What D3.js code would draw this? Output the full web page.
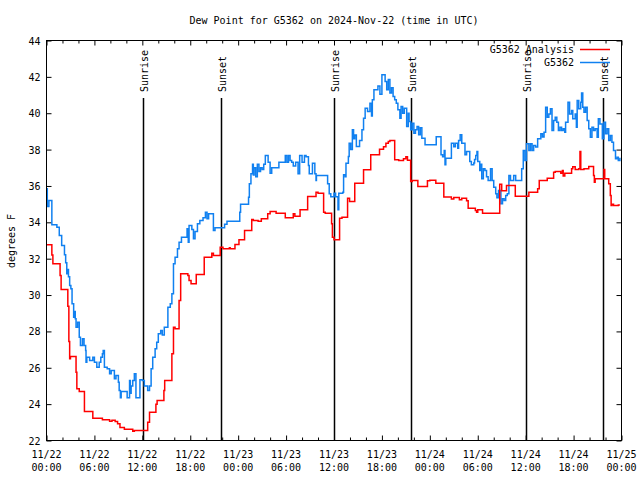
<!DOCTYPE html>
<html><head><meta charset="utf-8">
<script src="https://cdn.jsdelivr.net/npm/d3@7"></script>
<style>
body{margin:0;background:#fff;}
text{font-family:"DejaVu Sans Mono",monospace;font-size:10px;fill:#000;}
</style></head>
<body><svg id="c" width="640" height="480"></svg>
<script>
const titleText = "Dew Point for G5362 on 2024-Nov-22 (time in UTC)";
const yLabel = "degrees F";
const seriesNames = ["G5362 Analysis", "G5362"];
const seriesColors = ["#ff0000", "#1080f0"];
const yTicks = [22,24,26,28,30,32,34,36,38,40,42,44];
const xTickHours = [0,6,12,18,24,30,36,42,48,54,60,66,72];
const xTickLabels = [["11/22","00:00"],["11/22","06:00"],["11/22","12:00"],["11/22","18:00"],["11/23","00:00"],["11/23","06:00"],["11/23","12:00"],["11/23","18:00"],["11/24","00:00"],["11/24","06:00"],["11/24","12:00"],["11/24","18:00"],["11/25","00:00"]];
const sunEvents = [["Sunrise",12.04],["Sunset",21.8],["Sunrise",36.05],["Sunset",45.67],["Sunrise",60.03],["Sunset",69.66]];

// hours since 11/22 00:00 UTC, dew point F
const analysis = [
[0,32.76],[0.67,32.2],[0.8,31.72],[1.7,31.07],[1.83,30.3],[2.67,29.39],[2.8,27.45],[2.9,26.5],[3.0,26.62],
[3.7,25.76],[3.8,24.84],[4.1,24.7],[4.75,23.6],[5.8,23.23],[7.0,23.14],[7.9,23.06],[8.2,23.12],[8.6,23.05],
[8.9,22.92],[9.2,22.72],[9.75,22.62],[10.8,22.51],[11.0,22.55],[12.67,23.0],[12.9,23.56],[13.7,24.0],[13.85,24.2],
[14.7,24.75],[14.8,25.3],[15.7,26.77],[15.9,28.23],[16.1,28.15],[16.6,29.7],[16.8,31.17],[17.7,31.07],[17.85,30.8],
[18.1,30.62],[18.75,31.13],[19.75,32.08],[20.7,32.3],[20.9,32.17],[21.75,32.63],[22.1,32.55],[22.9,32.6],[23.0,32.55],
[23.6,32.78],[24.1,33.04],[24.8,33.55],[25.7,34.16],[25.9,34.1],[26.5,34.06],[26.9,34.2],[27.7,34.47],[28.0,34.6],
[28.75,34.5],[29.9,34.25],[30.9,34.47],[31.1,34.33],[31.75,34.69],[32.7,35.42],[33.75,35.66],[34.0,35.6],[34.7,34.56],
[34.9,34.5],[35.7,33.92],[35.8,33.18],[36.0,33.04],[36.7,34.23],[37.0,34.28],[37.7,35.33],[37.95,35.15],[38.6,36.15],
[39.7,36.89],[40.6,37.71],[41.7,38.02],[42.2,38.15],[42.5,38.35],[42.8,38.45],[43.0,38.5],[43.6,37.44],[44.1,37.4],
[44.7,37.5],[45.0,37.6],[45.2,37.42],[45.6,36.25],[45.8,36.3],[46.5,35.97],[47.7,36.28],[48.0,36.32],[48.75,36.15],
[49.75,35.39],[50.7,35.28],[51.0,35.36],[51.7,35.24],[52.0,35.33],[52.6,35.18],[52.8,34.78],[53.7,34.65],[53.85,34.55],
[54.0,34.69],[54.6,34.5],[56.7,34.5],[56.75,36.1],[57.0,35.74],[57.6,36.03],[58.7,35.44],[60.4,35.66],[61.5,35.84],
[61.7,36.3],[62.7,36.43],[63.5,36.76],[63.7,36.8],[64.4,36.7],[64.6,36.85],[64.7,36.55],[64.9,36.7],[65.75,36.94],
[65.9,37.05],[66.2,36.9],[66.65,36.95],[66.8,37.9],[66.9,36.9],[67.3,36.95],[67.9,37.07],[68.5,36.58],[68.6,36.2],
[68.7,36.4],[69.8,36.9],[69.9,36.4],[70.4,36.12],[70.6,35.48],[70.7,34.93],[70.8,35.0],[71.0,34.93],[71.6,34.95],[71.8,34.95]
];
const observed = [
[0,35.84],[0.1,34.87],[0.3,35.2],[0.67,33.86],[1.3,33.73],[1.6,33.28],[1.9,32.73],[2.25,32.21],[2.4,31.78],[2.54,31.17],
[2.65,31.4],[2.75,31.0],[2.9,30.53],[3.05,30.34],[3.2,29.52],[3.4,28.78],[3.5,29.1],[3.6,28.7],[3.7,28.23],[3.9,28.5],
[4.1,27.68],[4.25,27.23],[4.5,27.6],[4.7,27.23],[4.9,26.95],[4.95,26.31],[5.05,26.58],[5.4,26.4],[5.8,26.58],[6.0,26.31],
[6.3,26.03],[6.6,26.31],[6.8,26.58],[7.0,26.77],[7.1,26.95],[7.25,26.03],[7.6,25.95],[7.9,25.67],[8.1,25.85],[8.5,25.39],
[8.7,25.58],[9.0,25.2],[9.1,24.75],[9.25,24.35],[9.35,24.7],[10.0,24.7],[10.1,24.35],[10.4,25.3],[10.5,24.6],[10.6,25.0],
[10.8,25.3],[11.0,25.67],[11.2,24.35],[11.7,25.34],[12.0,25.3],[12.25,25.0],[12.67,24.75],[12.9,25.0],[13.1,25.94],
[13.3,26.58],[13.6,27.04],[13.8,27.4],[14.0,27.87],[14.3,28.05],[14.5,27.8],[14.75,28.23],[15.2,29.33],[15.5,29.52],
[15.7,30.07],[15.9,31.72],[16.1,32.08],[16.4,32.54],[16.6,32.9],[16.9,33.18],[17.6,33.64],[17.75,32.9],[17.85,33.82],
[18.2,33.6],[18.4,33.1],[18.6,33.5],[18.9,33.92],[19.2,34.1],[19.6,34.25],[19.9,34.56],[20.1,34.2],[20.3,34.47],
[20.85,34.47],[20.9,33.55],[21.1,33.7],[22.3,33.9],[22.6,34.06],[24.1,34.06],[24.2,34.56],[24.3,35.0],[25.2,35.0],
[25.3,35.38],[25.4,36.12],[25.6,36.67],[25.8,37.2],[25.9,36.6],[26.0,37.0],[26.2,36.5],[26.4,37.2],[26.6,36.8],
[26.8,37.0],[27.0,36.9],[27.2,37.2],[27.4,37.68],[27.75,37.3],[28.0,36.7],[28.2,37.0],[29.1,37.31],[29.9,37.68],
[30.1,37.3],[30.3,37.68],[30.5,37.4],[30.7,37.3],[30.9,37.1],[31.2,37.3],[31.5,36.67],[31.7,37.68],[32.0,37.3],
[32.3,37.68],[32.5,37.6],[32.8,37.13],[32.9,36.67],[33.3,37.25],[33.6,36.67],[33.75,36.3],[33.8,36.58],[35.2,36.12],
[35.4,35.57],[35.6,35.4],[36.0,35.6],[36.2,35.4],[36.5,34.69],[36.6,35.6],[37.1,35.66],[37.2,36.61],[37.4,36.5],
[37.5,37.25],[37.8,37.62],[37.9,38.35],[38.1,38.0],[38.3,39.09],[38.45,38.6],[38.6,38.8],[38.8,38.17],[39.2,38.5],
[39.5,39.09],[39.7,39.73],[39.9,40.28],[40.2,40.1],[40.5,40.55],[40.7,39.85],[40.8,40.74],[41.0,41.29],[41.3,41.29],
[41.5,41.5],[41.75,41.05],[42.0,42.11],[42.3,42.11],[42.4,41.75],[42.6,41.29],[42.8,41.85],[43.0,41.11],[43.2,41.4],
[43.4,40.92],[43.6,40.74],[43.8,40.55],[44.0,40.19],[44.25,39.73],[44.4,40.37],[44.6,40.0],[44.8,40.28],[45.1,39.27],
[45.3,40.0],[45.4,39.55],[45.6,39.09],[45.8,39.45],[46.0,38.9],[46.2,39.09],[46.4,39.27],[46.6,38.82],[46.8,39.2],
[47.0,38.63],[47.2,38.63],[47.4,38.26],[48.8,38.7],[49.3,38.7],[49.4,37.71],[49.6,37.6],[49.8,37.95],[49.9,37.17],
[50.0,37.53],[50.7,38.35],[51.0,38.15],[51.2,38.35],[51.5,38.08],[51.6,38.5],[51.8,38.82],[52.0,38.35],[52.4,37.71],
[52.6,37.9],[53.0,37.35],[53.2,37.17],[53.5,37.26],[53.6,37.45],[53.75,37.68],[53.9,37.9],[54.0,37.35],[54.25,36.85],
[54.4,37.2],[54.5,36.39],[54.7,36.94],[54.9,36.85],[55.1,36.5],[55.3,36.3],[55.6,36.94],[55.8,36.3],[56.0,35.93],
[56.25,35.57],[56.4,35.35],[56.6,35.75],[56.9,35.02],[57.1,35.3],[57.3,35.2],[57.5,35.48],[57.7,35.57],[57.9,36.58],
[58.1,36.3],[58.5,36.58],[58.75,36.3],[59.3,36.3],[59.5,36.94],[59.7,37.95],[59.9,37.4],[60.1,38.32],[60.4,37.95],
[60.6,38.32],[60.8,37.95],[61.0,38.23],[61.25,38.14],[61.5,38.59],[61.9,38.87],[62.1,38.69],[62.3,38.96],[62.5,40.33],
[62.7,39.78],[62.9,39.96],[63.1,40.24],[63.3,39.05],[63.5,39.6],[63.7,39.78],[63.9,39.5],[64.1,39.05],[64.3,39.23],
[64.5,39.05],[64.7,39.14],[64.9,38.96],[65.0,39.5],[65.3,40.61],[65.5,39.96],[65.75,40.15],[65.9,39.69],[66.2,39.96],
[66.35,39.23],[66.45,40.7],[66.65,40.24],[66.9,40.61],[67.0,41.11],[67.15,40.33],[67.3,40.06],[67.5,40.33],[67.7,39.6],
[67.9,39.14],[68.1,38.68],[68.3,39.23],[68.5,39.05],[68.7,39.14],[68.95,38.68],[69.1,39.69],[69.3,39.41],[69.6,38.59],
[69.8,39.5],[70.0,38.87],[70.2,39.14],[70.4,38.5],[70.6,38.78],[70.8,38.41],[71.0,37.95],[71.25,37.49],[71.45,37.58],
[71.6,37.4],[71.8,37.55]
];

const svg = d3.select("#c");
const L = 46.5, R = 621.5, T = 40.5, B = 440.5;
const x = d3.scaleLinear().domain([0,72]).range([L,R]);
const y = d3.scaleLinear().domain([22,44]).range([B,T]);

// Title
svg.append("text").attr("x",(L+R)/2).attr("y",24).attr("text-anchor","middle").text(titleText);
// Y label
svg.append("text").attr("transform","translate(15,241) rotate(-90)").attr("text-anchor","middle").text(yLabel);

// Axes
const ax = svg.append("g");
const minorHours = d3.range(0,73,2).filter(h => h % 6 !== 0);
ax.append("g").attr("transform",`translate(0,${B})`)
  .call(d3.axisBottom(x).tickValues(xTickHours).tickSize(-5).tickFormat(""));
ax.append("g").attr("transform",`translate(0,${B})`)
  .call(d3.axisBottom(x).tickValues(minorHours).tickSize(-3).tickFormat(""));
ax.append("g").attr("transform",`translate(0,${T})`)
  .call(d3.axisTop(x).tickValues(xTickHours).tickSize(-5).tickFormat(""));
ax.append("g").attr("transform",`translate(0,${T})`)
  .call(d3.axisTop(x).tickValues(minorHours).tickSize(-3).tickFormat(""));
ax.append("g").attr("transform",`translate(${L},0)`)
  .call(d3.axisLeft(y).tickValues(yTicks).tickSize(-5).tickFormat(""));
ax.append("g").attr("transform",`translate(${R},0)`)
  .call(d3.axisRight(y).tickValues(yTicks).tickSize(-5).tickFormat(""));
ax.selectAll(".domain").remove();
ax.selectAll("line").attr("stroke","#000").attr("stroke-width",1);

// tick labels
svg.append("g").selectAll("text").data(yTicks).join("text")
  .attr("x",L-6).attr("y",d=>y(d)+4).attr("text-anchor","end").text(d=>d);
const xl = svg.append("g").selectAll("g").data(xTickHours).join("g")
  .attr("transform",d=>`translate(${x(d)},0)`);
xl.append("text").attr("y",458).attr("text-anchor","middle").text((d,i)=>xTickLabels[i][0]);
xl.append("text").attr("y",471).attr("text-anchor","middle").text((d,i)=>xTickLabels[i][1]);

// Sun events
const sg = svg.append("g").selectAll("g").data(sunEvents).join("g");
sg.append("line").attr("x1",d=>Math.round(x(d[1]))+0.5).attr("x2",d=>Math.round(x(d[1]))+0.5)
  .attr("y1",98).attr("y2",B).attr("stroke","#000").attr("stroke-width",1.5);
sg.append("text").attr("text-anchor","start")
  .attr("transform",d=>`translate(${Math.round(x(d[1]))+5},92) rotate(-90)`).text(d=>d[0]);

// Series
const line = d3.line().x(d=>x(d[0])).y(d=>y(d[1])).curve(d3.curveStepAfter);
svg.append("path").datum(observed).attr("d",line).attr("fill","none")
  .attr("stroke",seriesColors[1]).attr("stroke-width",1.5);
svg.append("path").datum(analysis).attr("d",line).attr("fill","none")
  .attr("stroke",seriesColors[0]).attr("stroke-width",1.5);

// Frame
svg.append("rect").attr("x",L).attr("y",T).attr("width",R-L).attr("height",B-T)
  .attr("fill","none").attr("stroke","#000").attr("stroke-width",1);

// Legend
const lg = svg.append("g").selectAll("g").data(seriesNames).join("g")
  .attr("transform",(d,i)=>`translate(0,${49+i*13})`);
lg.append("text").attr("x",574).attr("y",4).attr("text-anchor","end").text(d=>d);
lg.append("line").attr("x1",580).attr("x2",610).attr("y1",0.5).attr("y2",0.5)
  .attr("stroke",(d,i)=>seriesColors[i]).attr("stroke-width",1.5);
</script></body></html>
